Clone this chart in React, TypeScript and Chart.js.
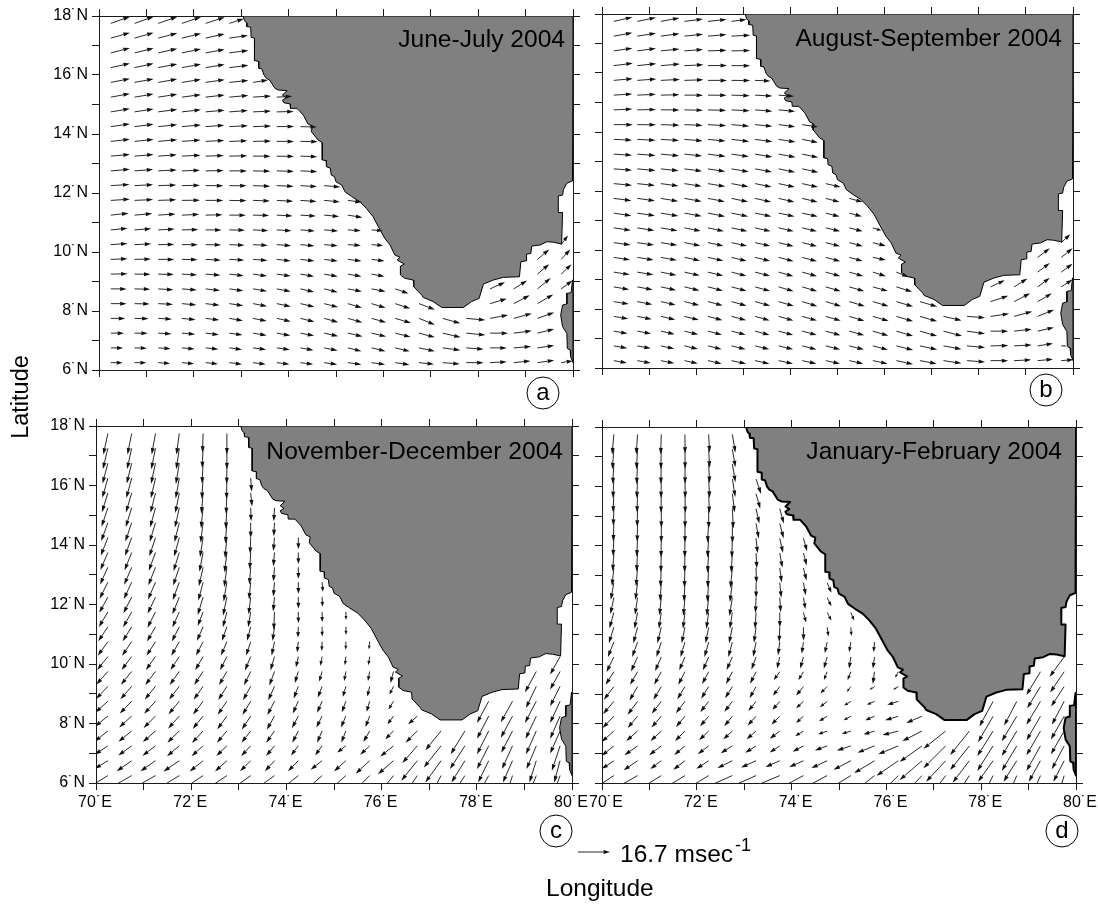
import React, { useEffect, useRef } from "react";
import { Chart, registerables } from "chart.js";

Chart.register(...registerables);

const FONT = "'Liberation Sans', Arial, sans-serif";

// Grid of the wind vectors (tail positions)
const LONS = [70.25, 70.75, 71.25, 71.75, 72.25, 72.75, 73.25, 73.75, 74.25, 74.75, 75.25, 75.75, 76.25, 76.75, 77.25, 77.75, 78.25, 78.75, 79.25, 79.75];
const LATS = [17.75, 17.25, 16.75, 16.25, 15.75, 15.25, 14.75, 14.25, 13.75, 13.25, 12.75, 12.25, 11.75, 11.25, 10.75, 10.25, 9.75, 9.25, 8.75, 8.25, 7.75, 7.25, 6.75, 6.25];

// Coast outlines (longitude, latitude)
const MAINLAND_LON = [73.04, 73.07, 73.11, 73.12, 73.2, 73.21, 73.28, 73.28, 73.37, 73.37, 73.44, 73.48, 73.53, 73.6, 73.71, 73.78, 73.97, 73.87, 73.95, 73.87, 73.9, 74.03, 74.04, 74.18, 74.31, 74.41, 74.5, 74.48, 74.62, 74.71, 74.71, 74.79, 74.8, 74.88, 74.9, 74.97, 75.0, 75.12, 75.19, 75.33, 75.5, 75.64, 75.78, 75.93, 76.03, 76.14, 76.24, 76.35, 76.29, 76.44, 76.36, 76.36, 76.45, 76.63, 76.64, 76.81, 76.84, 77.05, 77.23, 77.69, 77.86, 78.02, 78.11, 78.32, 78.53, 78.87, 78.9, 79.01, 79.02, 79.11, 79.13, 79.31, 79.45, 79.59, 79.76, 79.78, 79.69, 79.69, 79.78, 79.8, 79.87, 79.99, 80, 73.04];
const MAINLAND_LAT = [18, 17.84, 17.77, 17.64, 17.62, 17.28, 17.25, 16.49, 16.46, 16.23, 16.2, 16.0, 15.89, 15.83, 15.55, 15.49, 15.47, 15.32, 15.23, 15.15, 15.06, 15.02, 14.87, 14.87, 14.64, 14.34, 14.27, 14.08, 13.8, 13.71, 13.12, 13.1, 12.89, 12.84, 12.61, 12.55, 12.38, 12.27, 12.04, 11.88, 11.71, 11.48, 11.2, 10.75, 10.46, 10.24, 9.9, 9.82, 9.73, 9.59, 9.52, 9.22, 9.11, 9.05, 8.82, 8.54, 8.46, 8.32, 8.12, 8.12, 8.32, 8.43, 8.91, 9.05, 9.14, 9.16, 9.67, 9.7, 9.93, 9.95, 10.2, 10.24, 10.35, 10.33, 10.27, 11.34, 11.34, 11.9, 11.93, 12.12, 12.33, 12.41, 18, 18];
const ISLAND_LON = [79.99, 79.96, 79.87, 79.87, 79.78, 79.74, 79.78, 79.87, 79.88, 79.94, 79.95, 80, 80, 79.99];
const ISLAND_LAT = [9.05, 8.62, 8.6, 8.24, 8.2, 7.86, 7.47, 7.24, 6.73, 6.68, 6.45, 6.25, 9.05, 9.05];

// June-July 2004: eastward / northward wind, m/s, by row (north to south) and column (west to east); 0,0 or a missing cell = land
const JUNE_U = [
  [9.9, 9.9, 9.9, 9.9, 9.9, 7.5],
  [9.9, 9.9, 9.9, 9.9, 9.9, 9.7],
  [9.9, 9.9, 9.9, 9.9, 9.9, 9.9],
  [9.9, 9.9, 9.9, 9.9, 9.9, 9.9],
  [9.9, 9.9, 9.9, 9.9, 9.9, 9.9, 7.8],
  [9.9, 9.9, 9.9, 9.9, 9.9, 9.9, 9.4, 8],
  [9.9, 9.9, 9.9, 9.9, 9.9, 9.7, 9.4, 8.8],
  [9.9, 9.9, 9.9, 9.9, 9.7, 9.7, 9.4, 9, 8.5],
  [9.9, 9.9, 9.9, 9.7, 9.7, 9.4, 9.4, 9, 9],
  [9.9, 9.9, 9.7, 9.7, 9.4, 9.4, 9.2, 9, 8.8],
  [9.9, 9.7, 9.7, 9.4, 9.4, 9.2, 9, 9, 8.8],
  [9.7, 9.7, 9.4, 9.4, 9.2, 9, 9, 8.8, 8.6, 8.4],
  [9.9, 9.7, 9.4, 9.4, 9.2, 9, 8.8, 8.6, 8.4, 8.2, 7.2],
  [9.2, 9.2, 9, 9, 8.8, 8.6, 8.4, 8.2, 8, 7.8, 7.6],
  [8.7, 8.7, 8.5, 8.5, 8.3, 8.1, 7.9, 7.7, 7.5, 7.3, 6.8, 5.7],
  [8.7, 8.7, 8.3, 8.3, 8.1, 7.9, 7.7, 7.5, 7.3, 7.1, 6.8, 6, 0, 0, 0, 0, 0, 0, 0, 3.5],
  [8.7, 8.5, 8.3, 8.1, 7.9, 7.7, 7.5, 7.3, 7.3, 7.1, 7.1, 6.8, 0, 0, 0, 0, 0, 0, 6.1, 4.8],
  [8.7, 8.3, 8.1, 7.9, 7.7, 7.5, 7.3, 7.3, 7.1, 7.1, 7.1, 6.8, 0, 0, 0, 0, 0, 0, 6.1, 5.4],
  [8.2, 8.2, 7.9, 7.7, 7.5, 7.3, 7.3, 7.3, 7.1, 7.1, 7.3, 7.3, 6.9, 0, 0, 0, 7.8, 6.9, 6.9, 5.9],
  [8.2, 7.9, 7.7, 7.5, 7.3, 7.3, 7.3, 7.3, 7.3, 7.3, 7.3, 7.3, 7.8, 8.3, 0, 0, 8.7, 8.3, 8.2, 0],
  [7.5, 7.3, 7.1, 7.1, 7.1, 7.1, 7.1, 7.3, 7.3, 7.3, 7.6, 7.6, 8.2, 8.3, 9.2, 9.9, 9.4, 9.4, 8.7, 0],
  [6.9, 6.9, 6.9, 6.9, 6.9, 6.9, 7.1, 7.1, 7.1, 7.3, 7.6, 7.6, 8, 8.3, 9.4, 9.9, 9.4, 9.4, 8.7, 0],
  [6.4, 6.4, 6.4, 6.6, 6.6, 6.6, 6.8, 6.8, 6.8, 7, 7.1, 7.3, 7.6, 8.3, 9.2, 9, 8.7, 9, 8.7, 0],
  [6.1, 6.1, 6.1, 6.3, 6.4, 6.6, 6.6, 6.6, 6.6, 6.8, 7.1, 7.1, 7.4, 7.8, 8.9, 9, 8.7, 8.7, 8.7, 5.9],
];
const JUNE_V = [
  [3.5, 3.5, 3.4, 3.3, 3.2, 2.4],
  [2.8, 2.8, 2.6, 2.4, 2.2, 1.4],
  [2.5, 2.4, 2.2, 2, 1.8, 1.3],
  [2.2, 2.1, 1.9, 1.8, 1.6, 1.2],
  [1.9, 1.8, 1.7, 1.5, 1.4, 1, 1.2],
  [1.8, 1.6, 1.5, 1.3, 1.1, 0.9, 0.6, 0.4],
  [1.6, 1.5, 1.3, 1.1, 0.9, 0.7, 0.4, 0.2],
  [1.4, 1.2, 1, 0.9, 0.7, 0.5, 0.3, 0.1, -0.2],
  [1.1, 1, 0.9, 0.7, 0.5, 0.3, 0.2, 0, -0.2],
  [0.9, 0.8, 0.7, 0.5, 0.3, 0.2, 0, -0.2, -0.3],
  [0.8, 0.7, 0.5, 0.3, 0.2, 0, -0.2, -0.3, -0.4],
  [0.6, 0.5, 0.3, 0.2, 0, -0.1, -0.3, -0.4, -0.5, -0.7],
  [0.6, 0.4, 0.3, 0.1, 0, -0.2, -0.3, -0.5, -0.6, -0.8, -1],
  [1, 0.8, 0.6, 0.4, 0.2, 0, -0.2, -0.4, -0.5, -0.7, -1.2],
  [0.8, 0.6, 0.4, 0.2, 0, -0.2, -0.4, -0.5, -0.6, -0.6, -0.5, -0.5],
  [0.6, 0.4, 0.1, 0, -0.2, -0.3, -0.4, -0.6, -0.7, -0.6, -0.5, -0.5, 0, 0, 0, 0, 0, 0, 0, 4.7],
  [0.3, 0.2, 0, -0.2, -0.4, -0.4, -0.6, -0.8, -0.9, -0.9, -0.9, -0.9, 0, 0, 0, 0, 0, 0, 5.2, 5.2],
  [0.2, 0, -0.2, -0.4, -0.6, -0.8, -1, -1, -1.2, -1.2, -1.2, -1.2, 0, 0, 0, 0, 0, 0, 5.2, 5.2],
  [0, -0.2, -0.5, -0.6, -0.9, -1, -1.2, -1.4, -1.6, -1.7, -1.4, -1.4, -2.4, 0, 0, 0, 3.5, 4.3, 5.6, 4.3],
  [0, -0.2, -0.4, -0.7, -0.9, -1.1, -1.4, -1.5, -1.7, -1.9, -2.2, -2.2, -2.6, -3.1, 0, 0, 2.6, 4.3, 4.8, 0],
  [0, -0.2, -0.4, -0.7, -0.9, -1.2, -1.4, -1.6, -1.8, -2, -2.1, -2.1, -2.4, -3.3, -2.6, -0.9, 1.7, 2.6, 3.1, 0],
  [0, -0.1, -0.4, -0.6, -0.8, -1, -1.2, -1.3, -1.4, -1.6, -1.7, -1.8, -2, -2.2, -2.2, -1, 0, 1.2, 2.1, 0],
  [0, -0.2, -0.4, -0.6, -0.7, -0.8, -0.9, -1, -1.2, -1.4, -1.7, -1.7, -1.8, -1.7, -1.2, -0.7, 0, 0.7, 1.2, 0],
  [0, -0.1, -0.5, -0.6, -0.7, -0.8, -0.9, -0.9, -0.9, -1, -1, -1, -1.1, -0.9, -0.7, 0, 0.4, 0.9, 1.2, 0.9],
];

// August-September 2004
const AUGUST_U = [
  [9.7, 9.7, 9.7, 9.7, 9.7, 7.8],
  [9.7, 9.7, 9.7, 9.7, 9.7, 9.7],
  [9.7, 9.7, 9.7, 9.7, 9.7, 9.7],
  [9.9, 9.9, 9.9, 9.9, 9.9, 9.7],
  [9.9, 9.9, 9.9, 9.9, 9.9, 9.7, 8],
  [9.7, 9.7, 9.7, 9.7, 9.7, 9.5, 9, 8],
  [9.7, 9.7, 9.7, 9.7, 9.5, 9.5, 9, 8.6],
  [9.9, 9.7, 9.7, 9.5, 9.5, 9.2, 9, 8.6, 8.2],
  [9.5, 9.5, 9.5, 9.5, 9.2, 9.2, 9, 8.8, 8.2],
  [9.5, 9.5, 9.5, 9.2, 9.2, 9, 9, 8.8, 8.4],
  [9.5, 9.5, 9.2, 9.2, 9, 9, 8.8, 8.6, 8.4],
  [9.5, 9.2, 9.2, 9, 9, 8.8, 8.6, 8.4, 8.2, 7.8],
  [9.2, 9.2, 9, 9, 8.8, 8.6, 8.4, 8.2, 8, 7.2, 7],
  [9.2, 9.2, 9.1, 9, 8.9, 8.7, 8.5, 8.3, 8.1, 7.2, 6.6],
  [8.9, 8.9, 8.7, 8.5, 8.3, 8.3, 8.1, 7.9, 7.7, 7.5, 7, 4.5],
  [8.7, 8.7, 8.5, 8.3, 8.1, 8.1, 7.9, 7.8, 7.7, 7.5, 7.1, 6.8, 0, 0, 0, 0, 0, 0, 0, 4.7],
  [8.5, 8.5, 8.3, 8.1, 8, 7.9, 7.8, 7.8, 7.7, 7.6, 7, 6.8, 0, 0, 0, 0, 0, 0, 6.3, 5.9],
  [8.3, 8.3, 8.1, 8, 7.9, 7.8, 7.8, 7.7, 7.7, 7.6, 7.3, 6.8, 6.4, 0, 0, 0, 0, 0, 6.3, 5.9],
  [8, 8, 7.9, 7.8, 7.8, 7.8, 7.8, 7.8, 7.8, 7.8, 7.8, 7.8, 8.2, 0, 0, 0, 7.4, 6.9, 6.3, 5.9],
  [7.8, 7.8, 7.7, 7.7, 7.7, 7.8, 7.9, 7.9, 7.9, 8, 8.1, 8.2, 8.7, 9, 0, 0, 9.2, 8.3, 7.4, 0],
  [7.5, 7.5, 7.5, 7.5, 7.5, 7.6, 7.6, 7.7, 7.7, 7.8, 7.9, 8.2, 8.7, 9, 9.4, 9.4, 9.7, 9.4, 8.5, 0],
  [7.2, 7.2, 7.2, 7.2, 7.3, 7.4, 7.5, 7.6, 7.6, 7.7, 7.8, 8.1, 8.7, 9, 9.7, 9.4, 9.2, 9.2, 8.5, 0],
  [7, 7, 7, 7, 7.1, 7.3, 7.4, 7.5, 7.5, 7.5, 7.6, 7.9, 8.7, 9, 9.4, 9.4, 9.2, 9.2, 8, 2.6],
  [6.9, 7, 7, 7, 7.1, 7.6, 7.5, 7.5, 7.4, 7.4, 7.3, 7.7, 8.7, 8.7, 9.4, 9.4, 9.2, 8.9, 8, 6.3],
];
const AUGUST_V = [
  [2.2, 2, 1.8, 1.2, 1, 1],
  [1.7, 1.5, 1.3, 1, 0.8, 0.5],
  [1.4, 1.3, 1, 0.7, 0.3, 0.2],
  [1.2, 1, 0.8, 0.4, 0.1, 0],
  [0.9, 0.7, 0.5, 0.3, 0, -0.1, -0.3],
  [0.6, 0.4, 0.2, 0, -0.1, -0.3, -0.5, -0.6],
  [0.4, 0.2, 0, -0.2, -0.3, -0.5, -0.7, -0.8],
  [0, -0.1, -0.3, -0.4, -0.6, -0.8, -0.9, -1.1, -1.2],
  [-0.4, -0.5, -0.6, -0.8, -0.9, -1.1, -1.2, -1.4, -1.6],
  [-0.6, -0.7, -0.9, -1, -1.2, -1.3, -1.5, -1.6, -1.7],
  [-0.7, -0.9, -1, -1.2, -1.4, -1.5, -1.6, -1.7, -1.8],
  [-0.9, -1, -1.2, -1.4, -1.5, -1.6, -1.7, -1.8, -1.8, -1.8],
  [-1.2, -1.3, -1.5, -1.6, -1.7, -1.8, -1.9, -1.9, -1.9, -1.9, -1.9],
  [-1.4, -1.4, -1.5, -1.6, -1.7, -1.7, -1.7, -1.7, -1.8, -1.8, -1.7],
  [-1.3, -1.4, -1.5, -1.6, -1.7, -1.7, -1.8, -1.8, -1.8, -1.8, -1.8, -1.4],
  [-1.2, -1.3, -1.4, -1.6, -1.7, -1.8, -1.8, -1.9, -1.9, -1.9, -1.9, -1.7, 0, 0, 0, 0, 0, 0, 0, 4.3],
  [-1.3, -1.4, -1.5, -1.7, -1.8, -1.9, -1.9, -2, -2, -2, -1.9, -1.4, 0, 0, 0, 0, 0, 0, 4.7, 4.7],
  [-1.3, -1.4, -1.6, -1.8, -1.9, -2, -2, -2.1, -2.1, -2.1, -2.1, -2.1, -2.6, 0, 0, 0, 0, 0, 4.7, 4.3],
  [-1.4, -1.5, -1.7, -1.9, -2, -2.1, -2.2, -2.3, -2.3, -2.3, -2.3, -2.2, -2.6, 0, 0, 0, 3.5, 4.3, 4.7, 3.8],
  [-1.3, -1.5, -1.7, -1.9, -2, -2.1, -2.2, -2.3, -2.4, -2.4, -2.4, -2.4, -2.6, -2.6, 0, 0, 3, 4.3, 4.3, 0],
  [-1.3, -1.5, -1.7, -1.9, -2, -2, -2.1, -2.2, -2.2, -2.3, -2.4, -2.4, -2.6, -2.6, -2.1, -0.7, 1.4, 2.6, 3.5, 0],
  [-1.3, -1.4, -1.6, -1.8, -1.9, -1.9, -2, -2, -2, -2.1, -2.2, -2.4, -2.6, -2.6, -2.6, -1.4, 0, 1, 1.9, 0],
  [-1.2, -1.3, -1.5, -1.6, -1.7, -1.8, -1.8, -1.8, -1.9, -1.9, -1.9, -2, -2.2, -1.9, -1.7, -0.9, 0.2, 0.5, 1.2, 0],
  [-1.2, -1.3, -1.4, -1.5, -1.6, -1.6, -1.6, -1.6, -1.6, -1.6, -1.6, -1.6, -1.9, -1.6, -1.4, -0.7, 0, 0.4, 0.7, 0.5],
];

// November-December 2004
const NOVEMBER_U = [
  [-2.4, -2.2, -2, -1.5, -0.3, 0],
  [-2.6, -2.4, -2.2, -1.6, -0.5, 0],
  [-2.8, -2.6, -2.3, -1.8, -0.6, -0.1],
  [-2.9, -2.8, -2.4, -1.9, -0.7, -0.2, 0.5],
  [-3.1, -3, -2.6, -2.1, -0.9, -0.4, 0.7],
  [-3.3, -3.1, -2.8, -2.3, -1.1, -0.6, 0.2, -0.4],
  [-3.5, -3.3, -3, -2.5, -1.3, -0.8, 0, -0.4],
  [-3.7, -3.5, -3.2, -2.7, -1.6, -1, -0.3, -0.6, 0.05],
  [-3.9, -3.7, -3.5, -3, -1.9, -1.2, -0.5, -0.6, 0.05],
  [-4.1, -3.9, -3.7, -3.2, -2.2, -1.4, -0.7, -0.6, 0.05],
  [-4.3, -4.1, -3.9, -3.4, -2.5, -1.7, -0.9, -0.6, 0.05, 0.4],
  [-4.5, -4.3, -4.1, -3.6, -2.8, -2, -1.1, -0.7, 0.05, 0.2],
  [-4.7, -4.5, -4.2, -3.6, -2.8, -2.1, -1.3, -0.4, 0.05, 0.05, 0.05],
  [-5, -4.7, -4.4, -3.9, -3.2, -2.6, -1.9, -1, -0.2, 0.05, 0.05],
  [-5.3, -5, -4.7, -4.2, -3.7, -3.1, -2.4, -1.5, -0.6, -0.2, -0.1, -0.4],
  [-5.6, -5.3, -5, -4.6, -4.1, -3.6, -3, -2.1, -1.2, -0.9, -0.5, -0.7, 0, 0, 0, 0, 0, 0, 0, -5.2],
  [-6, -5.6, -5.3, -5, -4.6, -4.1, -3.5, -2.7, -1.8, -1.5, -0.9, -0.9, -1.6, 0, 0, 0, 0, 0, -5.9, -5.2],
  [-6.2, -5.9, -5.6, -5.3, -4.9, -4.5, -4, -3.3, -2.4, -2.2, -1.6, -1.2, -2.1, 0, 0, 0, 0, 0, -5.4, -5.2],
  [-6.6, -6.2, -5.9, -5.6, -5.2, -4.8, -4.3, -3.7, -2.9, -2.6, -2.1, -1.6, -2.6, 0, 0, 0, -6.1, -6.1, -5.9, -5.2],
  [-6.8, -6.5, -6.2, -5.8, -5.4, -5, -4.6, -4, -3.3, -3, -2.6, -2.2, -3.1, -4.8, 0, 0, -6.1, -6.1, -5.6, -5.2],
  [-6.9, -6.9, -6.6, -6.2, -5.8, -5.2, -4.8, -4.3, -3.1, -2.6, -2.4, -3.3, -4.3, -6.1, -8.2, -7.4, -6.1, -5.9, -5.4, -5.2],
  [-6.9, -7, -6.8, -6.4, -6, -5.5, -5, -4.4, -3.8, -3.6, -4.5, -5, -6.9, -7.8, -9, -7.8, -6.1, -5.5, -5.1, -4.3],
  [-6.9, -7.8, -7.8, -8.2, -7, -6.2, -5.5, -5, -5.4, -6, -6.2, -7.3, -8.1, -8.3, -8.2, -7, -5.5, -5, -3.6, -3.1],
  [-13, -14, -14, -13, -12, -12, -11, -11, -10, -9, -9, -8, -6.5, -5.4, -4.2, -5.2, -4.4, -2.6, -3.2, -3],
];
const NOVEMBER_V = [
  [-11, -11, -11, -11, -10, -11],
  [-10.8, -10.8, -10.9, -10.9, -10.3, -10.9],
  [-10.6, -10.6, -10.7, -10.8, -10.6, -10.8],
  [-10.3, -10.4, -10.5, -10.6, -10.8, -11, -7],
  [-10, -10.2, -10.3, -10.5, -10.8, -11, -7],
  [-9.8, -10, -10.1, -10.3, -10.6, -11, -7, -7],
  [-9.6, -9.8, -9.9, -10.1, -10.4, -10.8, -8, -7],
  [-9.4, -9.5, -9.7, -9.9, -10.2, -10.6, -8.5, -7, -6],
  [-9.1, -9.3, -9.5, -9.7, -10, -10.4, -8.8, -7.2, -6],
  [-8.9, -9.1, -9.3, -9.5, -9.8, -10.2, -9, -7.4, -6],
  [-8.6, -8.8, -9, -9.3, -9.6, -10, -9, -7.5, -6, -5],
  [-8.2, -8.4, -8.6, -9, -9.3, -9.6, -9, -7.5, -6, -5],
  [-7.8, -8, -8.2, -8, -7.3, -8, -8, -9.4, -5.7, -5.2, -4.2],
  [-7.5, -7.5, -7.6, -7.6, -7.3, -7.3, -7.2, -7.4, -5.6, -5, -4.2],
  [-7.3, -7.3, -7.3, -7.3, -7.2, -7.2, -7.2, -7.2, -5.5, -4.8, -4.2, -4],
  [-7, -7, -7, -7, -7.1, -7.1, -7.2, -7.2, -5.6, -4.8, -4.5, -4.5, 0, 0, 0, 0, 0, 0, 0, -9.4],
  [-6.8, -6.9, -7, -7, -7, -7.1, -7.2, -7.3, -6, -5.2, -5, -5, -6, 0, 0, 0, 0, 0, -10.9, -9.4],
  [-6.6, -6.8, -6.9, -6.9, -7, -7.1, -7.2, -7.3, -6.4, -5.8, -5.5, -5.3, -4.3, 0, 0, 0, 0, 0, -11.3, -10.4],
  [-6, -6.4, -6.6, -6.8, -6.9, -7, -7.1, -7.2, -6.4, -6, -5.8, -5.5, -4.3, 0, 0, 0, -11.3, -11, -11.3, -11.3],
  [-5.5, -5.9, -6.2, -6.5, -6.7, -6.9, -7, -7.1, -6.2, -6, -5.9, -5.7, -4.3, -4.3, 0, 0, -11.8, -11.3, -11.8, -11.8],
  [-5.5, -5.6, -5.8, -6.1, -6.3, -6.1, -6.1, -6.1, -6.1, -6.1, -6, -5.8, -4.3, -6.1, -10, -12.1, -12.1, -11.3, -12.1, -11.8],
  [-4.6, -5, -5.2, -5.4, -5.4, -5.3, -5.3, -5.3, -5, -4.9, -3.5, -4.7, -5.6, -9, -11.3, -12.1, -12.1, -12.1, -12.1, -13],
  [-4.2, -5.5, -5.5, -5.6, -5.6, -5.6, -5.5, -5.5, -5.5, -4.7, -5.6, -6.8, -7, -10.4, -11.3, -11.3, -11.3, -11.3, -11.3, -11.3],
  [-8, -8, -8, -8, -8, -8, -8, -8, -8, -8, -8, -8, -8, -8, -8, -8, -8, -8, -8, -8],
];

// January-February 2004
const JANUARY_U = [
  [-0.9, -0.7, -0.3, 0.05, 0.5, 1.6],
  [-0.8, -0.6, -0.2, 0.1, 0.5, 1.6],
  [-0.6, -0.5, -0.2, 0.1, 0.5, 1.6],
  [-0.5, -0.4, -0.1, 0.2, 0.5, 1.5, 2.6],
  [-0.4, -0.3, -0.1, 0.2, 0.4, 1.2, 2.2],
  [-0.3, -0.2, 0.05, 0.1, 0.05, 0.5, 1.7, 2.1],
  [-0.3, -0.2, 0.05, 0.05, -0.6, 0.05, 1.4, 2],
  [-0.4, -0.4, -0.1, -0.1, -0.6, -0.3, 0.8, 1.7, 1.9],
  [-0.6, -0.5, -0.2, -0.2, -0.6, -0.6, 0.4, 1.4, 1.7],
  [-1, -0.8, -0.4, -0.3, -0.5, -1, 0.2, 1, 1.6],
  [-1.6, -1.1, -0.6, -0.5, -0.7, -1.3, 0.05, 0.8, 1.2, 2.2],
  [-1.8, -1.3, -0.9, -0.8, -1, -1.5, -0.3, 0.5, 1, 2.2],
  [-2.3, -1.6, -1.2, -1, -1.2, -1.3, -0.5, 0.05, 1.4, 2.2, 1.7],
  [-2.6, -2.2, -2, -1.7, -1.6, -1.7, -1.1, -0.3, 0.05, 0.7, 0.3],
  [-3.1, -2.8, -2.5, -2.3, -2.2, -2.1, -1.5, -0.9, -0.9, -1.2, -0.9, -0.5],
  [-3.8, -3.4, -3.2, -3, -3, -3, -2.4, -1.4, -1.7, -1.7, -0.9, -0.9, 0, 0, 0, 0, 0, 0, 0, -7.6],
  [-4.3, -3.9, -3.7, -3.5, -3.4, -3.3, -3.1, -3.1, -2.6, -1.7, -1.7, -0.9, -1.6, 0, 0, 0, 0, 0, -7.3, -7.3],
  [-5.2, -4.2, -4.1, -4, -3.9, -3.8, -3.4, -3.5, -3.8, -3.5, -2.1, -2.6, -2.6, 0, 0, 0, 0, 0, -6.9, -6.8],
  [-5.6, -5.2, -5, -4.7, -4.4, -4.2, -4, -3.8, -3.8, -3.8, -3.5, -4, -5.7, 0, 0, 0, -7.1, -6.6, -7.3, -6.4],
  [-5.9, -5.2, -5.1, -4.7, -4.5, -4.2, -4.4, -4.3, -3.8, -4.2, -3.8, -4.8, -6.9, -8.2, 0, 0, -7.8, -7.8, -7.3, -6.9],
  [-6.4, -5.9, -5.6, -5.2, -5, -4.7, -4.9, -5.2, -4.3, -4.7, -4.7, -5.7, -8.2, -10.2, -11.6, -10, -8.2, -7.8, -7.3, -6.9],
  [-6.4, -6.8, -6.3, -5.6, -5.7, -6.1, -5.6, -5.2, -5.6, -6.4, -7.3, -8.9, -10.4, -11.6, -11.6, -10, -8.2, -7.8, -7.3, -6.4],
  [-6.4, -7.3, -5.7, -6.1, -6.4, -7.8, -7.8, -7.4, -7.4, -8.2, -9, -10.6, -11.3, -11.6, -10.2, -8.7, -7.8, -6.9, -6.1, -5.6],
  [-12, -14, -13, -13, -13, -18, -18, -19, -15, -15, -13, -10, -8, -7.6, -5.9, -5.2, -4, -3.4, -3.4, -2.4],
];
const JANUARY_V = [
  [-10.4, -10.4, -10.4, -10, -9.4, -9.4],
  [-10.4, -10.4, -10.4, -10.2, -9.6, -9.4],
  [-10.4, -10.4, -10.4, -10.2, -9.8, -9.4],
  [-10, -10, -10, -10, -9.8, -9.4, -7.8],
  [-9.8, -9.8, -10, -10, -10, -9.8, -7.8],
  [-9, -9.5, -10, -10, -10.4, -10.4, -7.8, -7.8],
  [-9.4, -9.6, -10, -10, -10, -10.2, -7.8, -7.8],
  [-9.4, -9.6, -10, -10, -10, -10.2, -7.8, -7.6, -6.8],
  [-9.4, -9.6, -10, -10, -10.2, -10.2, -8, -7.6, -6.5],
  [-9.4, -9.6, -10, -10.2, -10.2, -10.4, -8, -7.6, -6.5],
  [-8.9, -9, -9.6, -9.8, -10, -10, -8, -7.8, -6.5, -5.2],
  [-8.6, -9, -9.2, -9.4, -9.4, -9.6, -8, -7.6, -6, -4.5],
  [-8.3, -8.5, -8.5, -8.5, -8.5, -8.5, -8.5, -7.8, -5.2, -4.2, -4.2],
  [-8.3, -8.3, -8.3, -8.3, -8.3, -8.3, -8.1, -7.8, -7, -4.8, -4.5],
  [-7.8, -7.8, -7.8, -7.8, -7.8, -7.8, -7.6, -6.8, -6, -5.7, -5.2, -5.2],
  [-7.8, -7.6, -7.4, -7, -7, -6.8, -6.6, -6, -6, -6, -6, -6, 0, 0, 0, 0, 0, 0, 0, -10.4],
  [-6.8, -6.8, -6.8, -6.8, -6.4, -6.4, -6.2, -4.3, -4.3, -4.3, -4.3, -6.4, -3.1, 0, 0, 0, 0, 0, -12.1, -10.8],
  [-6.9, -7.3, -6.9, -6.6, -6.3, -6.1, -6.1, -4.8, -4.7, -3.5, -2.8, -1.7, -1.7, 0, 0, 0, 0, 0, -11.3, -10.4],
  [-6.6, -6.9, -6.4, -6.1, -5.6, -5.4, -5, -4.4, -3.5, -3, -2.1, -1.7, -1.7, 0, 0, 0, -13, -12.6, -12.1, -12.1],
  [-6.1, -6.1, -5.9, -5.6, -5.2, -5.2, -4.8, -4.3, -3.5, -2.6, -2.1, -2.1, -2.1, -3.5, 0, 0, -13.5, -13, -12.6, -12.1],
  [-5.7, -5.2, -5.2, -5.2, -4.8, -4.3, -4.2, -4, -2.6, -1.7, -1.4, -1.7, -2.1, -5.2, -9.2, -12.5, -13, -13, -12.6, -12.1],
  [-5.2, -4.8, -4.8, -4.7, -4.3, -3.8, -3.5, -3.4, -3, -2.4, -2.4, -3.5, -4.3, -8.3, -11.6, -12.6, -13, -13, -13, -12.1],
  [-4.3, -5, -4.3, -4.7, -4.2, -3.8, -3.5, -3.3, -3.3, -3.8, -4.7, -6.4, -7.8, -10, -10.9, -11.4, -10.9, -10.9, -10.9, -10.9],
  [-8, -8, -8, -8, -8, -8, -8, -8, -8, -8, -8, -8, -8, -8, -8, -8, -8, -8, -8, -8],
];

const REFERENCE_SPEED = 16.7;
const PX_PER_MS = 1.92;

type Panel = {
  title: string; letter: string; u: number[][]; v: number[][];
  left: number; right: number; top: number; bottom: number;
  latLabels: boolean; lonLabels: boolean; coastWidth: number; lonLabelOffset: number;
  titleInset: number; titleDrop: number; letterDx: number; letterDy: number; shared?: boolean;
};

const PANELS: Panel[] = [
  { title: "June-July 2004", letter: "a", u: JUNE_U, v: JUNE_V, left: 99, right: 573, top: 16, bottom: 370, latLabels: true, lonLabels: false, coastWidth: 1, lonLabelOffset: 0, titleInset: 8, titleDrop: 31, letterDx: 30, letterDy: 23 },
  { title: "August-September 2004", letter: "b", u: AUGUST_U, v: AUGUST_V, left: 602, right: 1073, top: 14, bottom: 368, latLabels: false, lonLabels: false, coastWidth: 1, lonLabelOffset: 0, titleInset: 11, titleDrop: 32, letterDx: 27, letterDy: 22 },
  { title: "November-December 2004", letter: "c", u: NOVEMBER_U, v: NOVEMBER_V, left: 96, right: 572, top: 426, bottom: 783, latLabels: true, lonLabels: true, coastWidth: 1, lonLabelOffset: -1, titleInset: 9, titleDrop: 33, letterDx: 16, letterDy: 48, shared: true },
  { title: "January-February 2004", letter: "d", u: JANUARY_U, v: JANUARY_V, left: 602, right: 1076, top: 427, bottom: 783, latLabels: false, lonLabels: true, coastWidth: 2, lonLabelOffset: 4, titleInset: 14, titleDrop: 32, letterDx: 14, letterDy: 48 },
];

const AXIS_COLOR = "#1a1a1a";
const LEFT_W = 50, RIGHT_W = 7, TOP_H = 7, BOTTOM_H = 30;

const vectorPlugin = {
  id: "windVectors",
  afterDatasetsDraw(chart: any) {
    const { ctx, chartArea: a } = chart;
    chart.data.datasets.forEach((ds: any, index: number) => {
      if (!ds.isVectorField) return;
      const meta = chart.getDatasetMeta(index);
      ctx.save();
      ctx.beginPath();
      ctx.rect(a.left, a.top, a.right - a.left, a.bottom - a.top);
      ctx.clip();
      ctx.strokeStyle = "#111";
      ctx.fillStyle = "#111";
      ctx.lineWidth = 0.9;
      meta.data.forEach((pt: any, k: number) => {
        const { u, v } = ds.data[k];
        drawArrow(ctx, pt.x, pt.y, pt.x + u * PX_PER_MS, pt.y - v * PX_PER_MS);
      });
      ctx.restore();
    });
  },
};

function drawArrow(ctx: any, x0: number, y0: number, x1: number, y1: number) {
  const len = Math.hypot(x1 - x0, y1 - y0) || 1;
  const ux = (x1 - x0) / len, uy = (y1 - y0) / len;
  const headLen = Math.min(6.5, len * 0.5), headW = Math.min(2, len * 0.18);
  const bx = x1 - ux * headLen, by = y1 - uy * headLen;
  ctx.beginPath();
  ctx.moveTo(x0, y0);
  ctx.lineTo(bx, by);
  ctx.stroke();
  ctx.beginPath();
  ctx.moveTo(x1, y1);
  ctx.lineTo(bx - uy * headW, by + ux * headW);
  ctx.lineTo(bx + uy * headW, by - ux * headW);
  ctx.closePath();
  ctx.fill();
}

const annotationPlugin = {
  id: "panelText",
  afterDraw(chart: any) {
    const p: Panel = chart.options.plugins.panelText.panel;
    const { ctx, chartArea: a } = chart;
    ctx.save();
    ctx.fillStyle = "#000";
    ctx.textBaseline = "alphabetic";
    ctx.textAlign = "right";
    ctx.font = `24.6px ${FONT}`;
    ctx.fillText(p.title, a.right - p.titleInset, a.top + p.titleDrop);

    const cx = a.right - p.letterDx, cy = a.bottom + p.letterDy;
    ctx.beginPath();
    ctx.arc(cx, cy, 16, 0, Math.PI * 2);
    ctx.strokeStyle = "#000";
    ctx.lineWidth = 1;
    ctx.stroke();
    ctx.textAlign = "center";
    ctx.textBaseline = "middle";
    ctx.font = `24px ${FONT}`;
    ctx.fillText(p.letter, cx, cy);

    if (p.shared) {
      ctx.textBaseline = "alphabetic";
      ctx.textAlign = "left";
      ctx.font = `24.5px ${FONT}`;
      ctx.fillText("Longitude", 546, 896);
      ctx.strokeStyle = "#111";
      ctx.fillStyle = "#111";
      ctx.lineWidth = 0.9;
      drawArrow(ctx, 578, 852, 578 + REFERENCE_SPEED * PX_PER_MS, 852);
      ctx.fillStyle = "#000";
      ctx.fillText(`${REFERENCE_SPEED} msec`, 620, 862);
      ctx.font = `18px ${FONT}`;
      ctx.fillText("-1", 735, 851);
      ctx.translate(28, 397);
      ctx.rotate(-Math.PI / 2);
      ctx.textAlign = "center";
      ctx.font = `23.5px ${FONT}`;
      ctx.fillText("Latitude", 0, 0);
    }
    ctx.restore();
  },
};

function buildConfig(p: Panel): any {
  const vectors: any[] = [];
  p.u.forEach((row, j) =>
    row.forEach((u, i) => {
      const v = p.v[j][i] ?? 0;
      if (u === 0 && v === 0) return;
      vectors.push({ x: LONS[i], y: LATS[j], u, v });
    })
  );
  const polygon = (lons: number[], lats: number[]) => ({
    data: lons.map((x, i) => ({ x, y: lats[i] })),
    showLine: true, fill: "shape", tension: 0, pointRadius: 0,
    backgroundColor: "#808080", borderColor: "#000", borderWidth: p.coastWidth,
    borderJoinStyle: "round",
  });
  const commonGrid = { drawOnChartArea: false, drawTicks: true, tickLength: 7, color: AXIS_COLOR, lineWidth: 1 };
  const border = { display: true, color: AXIS_COLOR, width: 1 };
  const tickFont = { family: FONT, size: 16 };
  const fitW = (w: number) => (s: any) => { s.width = w; s.paddingTop = 0; s.paddingBottom = 0; };
  const fitH = (h: number) => (s: any) => { s.height = h; s.paddingLeft = 0; s.paddingRight = 0; };
  return {
    type: "scatter",
    data: {
      datasets: [
        polygon(MAINLAND_LON, MAINLAND_LAT),
        polygon(ISLAND_LON, ISLAND_LAT),
        { data: vectors, isVectorField: true, pointRadius: 0, showLine: false },
      ],
    },
    options: {
      responsive: false, animation: false, events: [],
      layout: {
        padding: {
          left: p.left - LEFT_W, right: 1098 - p.right - RIGHT_W,
          top: p.top - TOP_H, bottom: 905 - p.bottom - BOTTOM_H,
        },
      },
      plugins: { legend: { display: false }, tooltip: { enabled: false }, title: { display: false }, panelText: { panel: p } },
      scales: {
        x: {
          type: "linear", position: "bottom", min: 70, max: 80, afterFit: fitH(BOTTOM_H),
          grid: commonGrid, border,
          ticks: {
            display: p.lonLabels, stepSize: 1, autoSkip: false, maxRotation: 0, color: "#000", font: tickFont,
            padding: 3, labelOffset: p.lonLabelOffset,
            callback: (val: number) => (val % 2 === 0 ? `${val}˙E` : ""),
          },
        },
        x2: {
          type: "linear", position: "top", min: 70, max: 80, afterFit: fitH(TOP_H),
          grid: commonGrid, border, ticks: { display: false, stepSize: 1 },
        },
        y: {
          type: "linear", position: "left", min: 6, max: 18, afterFit: fitW(LEFT_W),
          grid: commonGrid, border,
          ticks: {
            display: p.latLabels, stepSize: 1, autoSkip: false, color: "#000", font: tickFont, padding: 4,
            callback: (val: number) => (val % 2 === 0 ? `${val}˙N` : ""),
          },
        },
        y2: {
          type: "linear", position: "right", min: 6, max: 18, afterFit: fitW(RIGHT_W),
          grid: commonGrid, border, ticks: { display: false, stepSize: 1 },
        },
      },
    },
    plugins: [vectorPlugin, annotationPlugin],
  };
}

function PanelChart({ panel }: { panel: Panel }) {
  const ref = useRef<HTMLCanvasElement | null>(null);
  useEffect(() => {
    const chart = new Chart(ref.current as any, buildConfig(panel));
    return () => chart.destroy();
  }, [panel]);
  return <canvas ref={ref} width={1098} height={905} style={{ position: "absolute", left: 0, top: 0, display: "block" }} />;
}

export default function App() {
  return (
    <div style={{ position: "fixed", left: 0, top: 0, width: 1098, height: 905, background: "#fff", overflow: "hidden" }}>
      {PANELS.map((p) => <PanelChart key={p.letter} panel={p} />)}
    </div>
  );
}
